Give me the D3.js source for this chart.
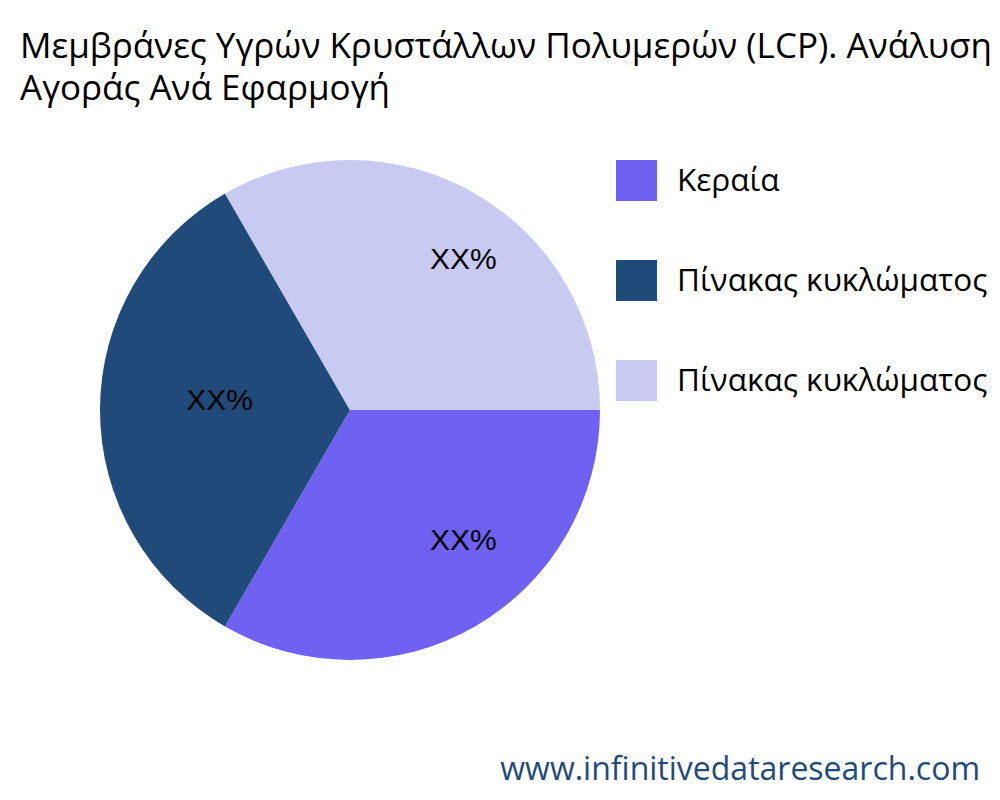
<!DOCTYPE html><html><head><meta charset="utf-8"><script src="https://cdn.jsdelivr.net/npm/d3@7"></script>
<style>body{margin:0;background:#fff}</style></head><body><svg id="c" width="1000" height="800"></svg><script>
const categories=["Κεραία","Πίνακας κυκλώματος","Πίνακας κυκλώματος"];
const values=[1,1,1];
const labels=["XX%","XX%","XX%"];
const colors=["#6f61f2","#1f4a7a","#c8caf2"];
const svg=d3.select("#c");
const f="'Open Sans','Noto Sans',sans-serif";
svg.append("text").attr("x",20).attr("y",58).attr("font-family",f).attr("font-size",35).text("Μεμβράνες Υγρών Κρυστάλλων Πολυμερών (LCP). Ανάλυση");
svg.append("text").attr("x",20).attr("y",100).attr("font-family",f).attr("font-size",35).text("Αγοράς Ανά Εφαρμογή");
const cx=350,cy=410,r=250;
const pie=d3.pie().sort(null).startAngle(Math.PI/2).endAngle(Math.PI/2+2*Math.PI)(values);
const g=svg.append("g").attr("transform",`translate(${cx},${cy})`);
const arc=d3.arc().innerRadius(0).outerRadius(r);
const la=d3.arc().innerRadius(r*0.65).outerRadius(r*0.65);
g.selectAll("path").data(pie).join("path").attr("d",arc).attr("fill",(d,i)=>colors[i]);
g.selectAll("text").data(pie).join("text").attr("transform",d=>{const c=la.centroid(d);return `translate(${c[0]+32},${c[1]-11})`;}).attr("text-anchor","middle").attr("dy","0.35em").attr("font-family","'Liberation Sans',Arial,sans-serif").attr("font-size",30).text((d,i)=>labels[i]);
const lg=svg.append("g");
categories.forEach((c,i)=>{
lg.append("rect").attr("x",616).attr("y",160+i*100).attr("width",41).attr("height",41).attr("fill",colors[i]);
lg.append("text").attr("x",677).attr("y",191+i*100).attr("font-family",f).attr("font-size",31.5).text(c);
});
svg.append("text").attr("x",980).attr("y",780).attr("text-anchor","end").attr("font-family",f).attr("font-size",32).attr("fill","#1f4a7a").text("www.infinitivedataresearch.com");
</script></body></html>
